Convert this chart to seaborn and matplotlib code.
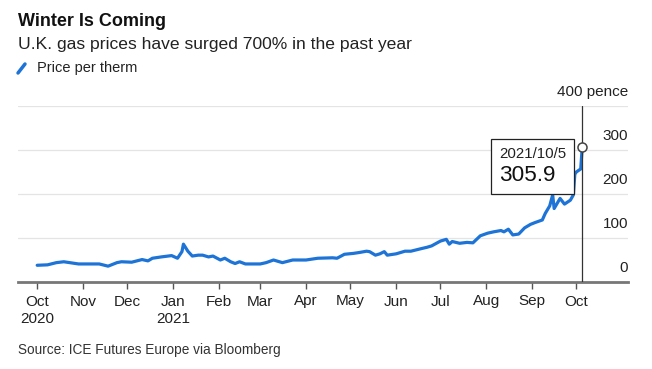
import pandas as pd
import matplotlib
matplotlib.use("Agg")
import matplotlib.pyplot as plt
import seaborn as sns
from matplotlib.offsetbox import TextArea, VPacker, AnnotationBbox

# data (pence per therm)
dates = [
    "2020-10-01", "2020-10-08", "2020-10-14", "2020-10-19", "2020-10-23", "2020-10-29",
    "2020-11-12", "2020-11-18", "2020-11-24", "2020-11-27", "2020-12-04", "2020-12-11",
    "2020-12-15", "2020-12-18", "2020-12-24", "2020-12-31", "2021-01-04", "2021-01-07",
    "2021-01-08", "2021-01-11", "2021-01-14", "2021-01-18", "2021-01-21", "2021-01-25",
    "2021-01-28", "2021-02-02", "2021-02-05", "2021-02-09", "2021-02-12", "2021-02-15",
    "2021-02-19", "2021-03-01", "2021-03-05", "2021-03-10", "2021-03-16", "2021-03-23",
    "2021-04-01", "2021-04-09", "2021-04-19", "2021-04-22", "2021-04-27", "2021-05-03",
    "2021-05-07", "2021-05-12", "2021-05-14", "2021-05-18", "2021-05-21", "2021-05-24",
    "2021-05-26", "2021-06-01", "2021-06-07", "2021-06-11", "2021-06-17", "2021-06-22",
    "2021-06-25", "2021-07-01", "2021-07-05", "2021-07-07", "2021-07-09", "2021-07-14",
    "2021-07-19", "2021-07-23", "2021-07-28", "2021-08-02", "2021-08-06", "2021-08-11",
    "2021-08-13", "2021-08-16", "2021-08-19", "2021-08-23", "2021-08-27", "2021-08-31",
    "2021-09-03", "2021-09-08", "2021-09-10", "2021-09-13", "2021-09-15", "2021-09-16",
    "2021-09-20", "2021-09-23", "2021-09-27", "2021-09-29", "2021-09-30", "2021-10-01",
    "2021-10-04", "2021-10-05",
]
prices = [
    38, 39, 44, 46, 44, 41,
    41, 36, 44, 46, 45, 51,
    48, 54, 57, 60, 54, 69,
    86, 70, 59, 61, 61, 57,
    59, 50, 54, 46, 42, 46,
    41, 41, 44, 50, 44, 50,
    50, 54, 55, 54, 63, 65,
    67, 70, 69, 61, 64, 69,
    61, 64, 70, 70, 75, 79,
    82, 93, 97, 86, 92, 88,
    90, 89, 105, 111, 114, 117,
    114, 120, 107, 109, 123, 131,
    135, 141, 156, 173, 198, 167,
    190, 177, 186, 198, 245, 250,
    257, 305.9,
]
month_ticks = ["2020-10-01", "2020-11-01", "2020-12-01", "2021-01-01", "2021-02-01",
               "2021-03-01", "2021-04-01", "2021-05-01", "2021-06-01", "2021-07-01",
               "2021-08-01", "2021-09-01", "2021-10-01"]
month_labels = ["Oct\n2020", "Nov", "Dec", "Jan\n2021", "Feb", "Mar", "Apr", "May",
                "Jun", "Jul", "Aug", "Sep", "Oct"]
y_ticks = [0, 100, 200, 300, 400]
y_labels = ["0", "100", "200", "300", "400 pence"]

df = pd.DataFrame({"date": pd.to_datetime(dates), "price": prices})

sns.set_theme(style="white")
plt.rcParams["font.family"] = ["Liberation Sans", "DejaVu Sans"]

BLUE = "#1d74d6"
fig = plt.figure(figsize=(6.52, 3.69), dpi=100)
ax = fig.add_axes([18 / 652, 87 / 369, 610 / 652, 176 / 369])

sns.lineplot(data=df, x="date", y="price", color=BLUE, linewidth=2.3, ax=ax)

ax.set_xlim(pd.Timestamp("2020-09-18"), pd.Timestamp("2021-11-05"))
ax.set_ylim(0, 400)

# grid + right-side labels sitting above each gridline
for v, lab in zip(y_ticks, y_labels):
    if v > 0:
        ax.axhline(v, color="#e4e4e4", lw=0.9, zorder=0)
    ax.annotate(lab, xy=(1.0, v), xycoords=("axes fraction", "data"),
                xytext=(0, 7), textcoords="offset pixels",
                ha="right", va="bottom", fontsize=11, color="#222222")

ax.set_yticks([])
ax.set_xticks(pd.to_datetime(month_ticks))
ax.set_xticklabels(month_labels, fontsize=11, color="#222222", linespacing=1.3)
ax.tick_params(axis="x", length=5, width=1, color="#555555", pad=4, bottom=True)
ax.set_xlabel("")
ax.set_ylabel("")
for s in ["top", "right", "left"]:
    ax.spines[s].set_visible(False)
ax.spines["bottom"].set_color("#777777")
ax.spines["bottom"].set_linewidth(2)

# crosshair on last point
last_date = df["date"].iloc[-1]
last_val = df["price"].iloc[-1]
ax.axvline(last_date, ymin=0, ymax=1, color="#333333", lw=0.9, zorder=3)
ax.plot([last_date], [last_val], marker="o", markersize=6.5, markerfacecolor="white",
        markeredgecolor="#444444", markeredgewidth=1.1, zorder=6, clip_on=False)

t1 = TextArea("2021/10/5", textprops=dict(fontsize=10.8, color="#222222"))
t2 = TextArea(f"{last_val:.1f}", textprops=dict(fontsize=16.2, color="#111111"))
box = VPacker(children=[t1, t2], align="left", pad=5.5, sep=3)
ab = AnnotationBbox(box, (last_date, last_val), xybox=(-6, 6),
                    xycoords="data", boxcoords="offset points", box_alignment=(1, 1),
                    frameon=True, pad=0,
                    bboxprops=dict(edgecolor="#222222", facecolor="white", lw=0.9,
                                   boxstyle="square,pad=0"))
ab.set_zorder(5)
ax.add_artist(ab)

# titles
fig.text(18 / 652, 1 - 21 / 369, "Winter Is Coming", fontsize=13, fontweight="bold",
         va="center", ha="left", color="#111111")
fig.text(18 / 652, 1 - 44 / 369, "U.K. gas prices have surged 700% in the past year",
         fontsize=12.6, va="center", ha="left", color="#222222")
fig.lines.append(plt.Line2D([18 / 652, 25 / 652], [1 - 73 / 369, 1 - 64 / 369],
                            transform=fig.transFigure, color=BLUE, lw=2.5))
fig.text(37 / 652, 1 - 68 / 369, "Price per therm", fontsize=10.5, va="center",
         ha="left", color="#222222")
fig.text(18 / 652, 1 - 350 / 369, "Source: ICE Futures Europe via Bloomberg",
         fontsize=9.8, va="center", ha="left", color="#333333")

fig.savefig("out.png", dpi=100)
